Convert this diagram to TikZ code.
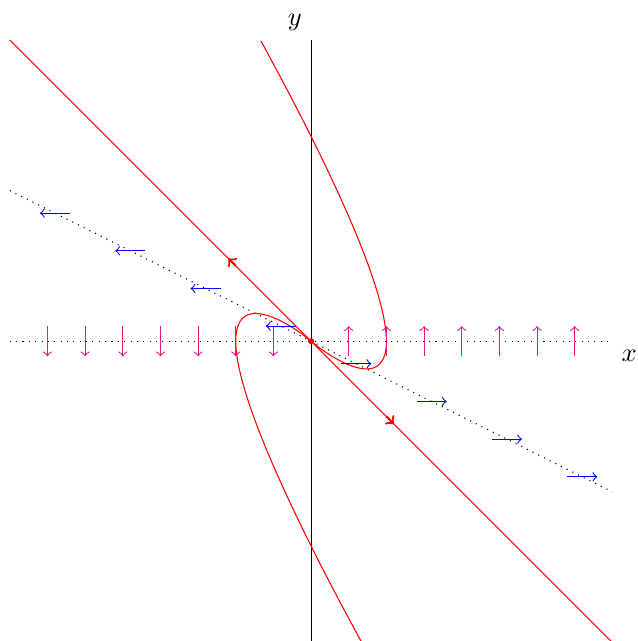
\documentclass[tikz,border=0pt]{standalone}
\usepackage{amsmath,amssymb}
\usepackage{xcolor}
\usepackage{tikz}
\usetikzlibrary{arrows,positioning}
\definecolor{fieldpink}{RGB}{230,20,140}

\begin{document}
\begin{tikzpicture}[vfield/.style={->, fieldpink}, hfield/.style={->, blue}, orbit/.style={red}]
  \useasboundingbox (-4.13,-3.98) rectangle (4.33,4.53);
  \coordinate (origin) at (0,0);
  \coordinate (xleft) at (-4,0);
  \coordinate (xright) at (4,0);
  \coordinate (ybot) at (0,-4);
  \coordinate (ytop) at (0,4);
  \coordinate (nleft) at (-4,2);
  \coordinate (nright) at (4,-2);
  \coordinate (eleft) at (-4,4);
  \coordinate (eright) at (4,-4);

  % nullclines and axes
  \draw[dotted] (xleft) -- (xright);
  \draw[dotted] (nleft) -- (nright);
  \draw (ybot) -- (ytop);
  \node[below right] (xlabel) at (xright) {$x$};
  \node[above left] (ylabel) at (ytop) {$y$};

  % eigenline and two orbits
  \draw[orbit] (eleft) -- (eright);
  \draw[orbit, thick, ->] (-1.0,1.0) -- (-1.1,1.1);
  \draw[orbit, thick, ->] (1.0,-1.0) -- (1.1,-1.1);
  \draw[orbit, domain=-8:1.202, samples=200, smooth, variable=\t]
    plot ({exp(\t)*(1-\t)}, {\t*exp(\t)});
  \draw[orbit, domain=-8:1.202, samples=200, smooth, variable=\t]
    plot ({-exp(\t)*(1-\t)}, {-\t*exp(\t)});

  % direction field on the nullclines
  \foreach \x in {0.5,1,...,3.5} {
    \draw[vfield] (\x,-0.2) -- (\x,0.2);
    \draw[vfield] (-\x,0.2) -- (-\x,-0.2);
  }
  \foreach \x in {0.6,1.6,2.6,3.6} {
    \draw[hfield] (\x-0.2,-\x/2) -- (\x+0.2,-\x/2);
  }
  \foreach \x in {0.4,1.4,2.4,3.4} {
    \draw[hfield] (-\x+0.2,\x/2) -- (-\x-0.2,\x/2);
  }

  \fill[red] (origin) circle (0.04);
\end{tikzpicture}
\end{document}
